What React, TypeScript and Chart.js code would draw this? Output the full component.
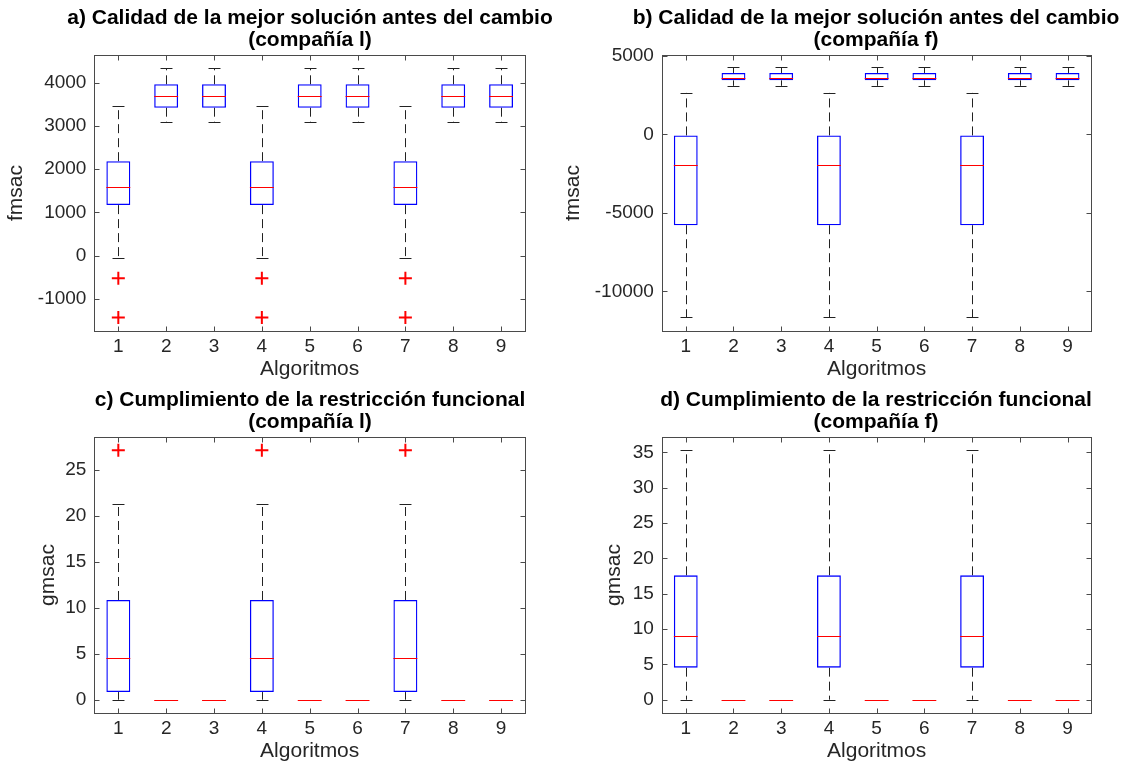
import React, { useEffect, useRef } from 'react';
import { Chart, registerables } from 'chart.js';

Chart.register(...registerables);

// ---------- data ----------
const categories = ['1', '2', '3', '4', '5', '6', '7', '8', '9'];

// a) fmsac, compañía l
const aLow = [-60, 3090, 3090, -60, 3090, 3090, -60, 3090, 3090];
const aQ1 = [1170, 3420, 3420, 1170, 3420, 3420, 1170, 3420, 3420];
const aMedian = [1595, 3700, 3700, 1595, 3700, 3700, 1595, 3700, 3700];
const aQ3 = [2185, 3960, 3960, 2185, 3960, 3960, 2185, 3960, 3960];
const aHigh = [3450, 4330, 4330, 3450, 4330, 4330, 3450, 4330, 4330];
const aOutliers = [[-520, -1425], [], [], [-520, -1425], [], [], [-520, -1425], [], []];
const aYTicks = [-1000, 0, 1000, 2000, 3000, 4000];

// b) fmsac, compañía f
const bLow = [-11650, 3100, 3100, -11650, 3100, 3100, -11650, 3100, 3100];
const bQ1 = [-5780, 3450, 3450, -5780, 3450, 3450, -5780, 3450, 3450];
const bMedian = [-1970, 3620, 3620, -1970, 3620, 3620, -1970, 3620, 3620];
const bQ3 = [-60, 3920, 3920, -60, 3920, 3920, -60, 3920, 3920];
const bHigh = [2650, 4290, 4290, 2650, 4290, 4290, 2650, 4290, 4290];
const bOutliers = [[], [], [], [], [], [], [], [], []];
const bYTicks = [-10000, -5000, 0, 5000];

// c) gmsac, compañía l
const cLow = [0, 0, 0, 0, 0, 0, 0, 0, 0];
const cQ1 = [0.83, 0, 0, 0.83, 0, 0, 0.83, 0, 0];
const cMedian = [4.53, 0, 0, 4.53, 0, 0, 4.53, 0, 0];
const cQ3 = [10.83, 0, 0, 10.83, 0, 0, 10.83, 0, 0];
const cHigh = [21.23, 0, 0, 21.23, 0, 0, 21.23, 0, 0];
const cOutliers = [[27.1], [], [], [27.1], [], [], [27.1], [], []];
const cYTicks = [0, 5, 10, 15, 20, 25];

// d) gmsac, compañía f
const dLow = [0, 0, 0, 0, 0, 0, 0, 0, 0];
const dQ1 = [4.53, 0, 0, 4.53, 0, 0, 4.53, 0, 0];
const dMedian = [8.96, 0, 0, 8.96, 0, 0, 8.96, 0, 0];
const dQ3 = [17.59, 0, 0, 17.59, 0, 0, 17.59, 0, 0];
const dHigh = [35.38, 0, 0, 35.38, 0, 0, 35.38, 0, 0];
const dOutliers = [[], [], [], [], [], [], [], [], []];
const dYTicks = [0, 5, 10, 15, 20, 25, 30, 35];

const FONT = '"Liberation Sans", Arial, Helvetica, sans-serif';
const XLABEL = 'Algoritmos';
const CANVAS_W = 620;
const CANVAS_H = 382;

const panels = [
  {
    key: 'a', left: 0, top: 0,
    title: ['a) Calidad de la mejor solución antes del cambio', '(compañía l)'],
    yLabel: 'fmsac', yMin: -1730, yMax: 4630, yTicks: aYTicks,
    low: aLow, q1: aQ1, med: aMedian, q3: aQ3, high: aHigh, out: aOutliers,
    axisW: 94.4, rightW: 95, yTitlePad: 6,
  },
  {
    key: 'b', left: 566, top: 0,
    title: ['b) Calidad de la mejor solución antes del cambio', '(compañía f)'],
    yLabel: 'fmsac', yMin: -12500, yMax: 5045, yTicks: bYTicks,
    low: bLow, q1: bQ1, med: bMedian, q3: bQ3, high: bHigh, out: bOutliers,
    axisW: 95.9, rightW: 94.6, yTitlePad: -3,
  },
  {
    key: 'c', left: 0, top: 382,
    title: ['c) Cumplimiento de la restricción funcional', '(compañía l)'],
    yLabel: 'gmsac', yMin: -1.41, yMax: 28.5, yTicks: cYTicks,
    low: cLow, q1: cQ1, med: cMedian, q3: cQ3, high: cHigh, out: cOutliers,
    axisW: 94.4, rightW: 95, yTitlePad: 38,
  },
  {
    key: 'd', left: 566, top: 382,
    title: ['d) Cumplimiento de la restricción funcional', '(compañía f)'],
    yLabel: 'gmsac', yMin: -1.84, yMax: 37.12, yTicks: dYTicks,
    low: dLow, q1: dQ1, med: dMedian, q3: dQ3, high: dHigh, out: dOutliers,
    axisW: 95.9, rightW: 94.6, yTitlePad: 38,
  },
];

const boxPlugin = {
  id: 'boxplot',
  beforeDatasetsDraw(chart: any, _args: any, opts: any) {
    const meta = chart.getDatasetMeta(1);
    const y = chart.scales.y;
    const ctx = chart.ctx;
    const area = chart.chartArea;
    ctx.save();
    ctx.beginPath();
    ctx.rect(area.left, area.top, area.right - area.left, area.bottom - area.top);
    ctx.clip();
    meta.data.forEach((bar: any, i: number) => {
      const x = Math.round(bar.x) + 0.5;
      const w = bar.width;
      const pLow = y.getPixelForValue(opts.low[i]);
      const pQ1 = y.getPixelForValue(opts.q1[i]);
      const pQ3 = y.getPixelForValue(opts.q3[i]);
      const pHigh = y.getPixelForValue(opts.high[i]);
      ctx.strokeStyle = '#222222';
      ctx.lineWidth = 1;
      ctx.setLineDash([9, 5]);
      if (opts.high[i] !== opts.q3[i]) {
        ctx.beginPath();
        ctx.moveTo(x, pQ3);
        ctx.lineTo(x, pHigh);
        ctx.stroke();
      }
      if (opts.low[i] !== opts.q1[i]) {
        ctx.beginPath();
        ctx.moveTo(x, pQ1);
        ctx.lineTo(x, pLow);
        ctx.stroke();
      }
      ctx.setLineDash([]);
      const cw = w / 4;
      [pHigh, pLow].forEach((p) => {
        const py = Math.round(p) + 0.5;
        ctx.beginPath();
        ctx.moveTo(x - cw, py);
        ctx.lineTo(x + cw, py);
        ctx.stroke();
      });
    });
    ctx.restore();
  },
  afterDatasetsDraw(chart: any, _args: any, opts: any) {
    const meta = chart.getDatasetMeta(1);
    const y = chart.scales.y;
    const ctx = chart.ctx;
    ctx.save();
    meta.data.forEach((bar: any, i: number) => {
      const w = bar.width;
      const py = Math.round(y.getPixelForValue(opts.med[i])) + 0.5;
      ctx.strokeStyle = '#ff0000';
      ctx.lineWidth = 1;
      ctx.beginPath();
      ctx.moveTo(bar.x - w / 2, py);
      ctx.lineTo(bar.x + w / 2, py);
      ctx.stroke();
    });
    ctx.restore();
  },
  afterDraw(chart: any) {
    const ctx = chart.ctx;
    const { left, right, top, bottom } = chart.chartArea;
    const L = Math.round(left) + 0.5;
    const R = Math.round(right) + 0.5;
    const T = Math.round(top) + 0.5;
    const B = Math.round(bottom) + 0.5;
    const tl = 5;
    ctx.save();
    ctx.strokeStyle = '#4a4a4a';
    ctx.lineWidth = 1;
    ctx.strokeRect(L, T, R - L, B - T);
    ctx.beginPath();
    chart.scales.y.ticks.forEach((t: any) => {
      const py = Math.round(chart.scales.y.getPixelForValue(t.value)) + 0.5;
      ctx.moveTo(L, py); ctx.lineTo(L + tl, py);
      ctx.moveTo(R, py); ctx.lineTo(R - tl, py);
    });
    chart.scales.x.ticks.forEach((_t: any, i: number) => {
      const px = Math.round(chart.scales.x.getPixelForTick(i)) + 0.5;
      ctx.moveTo(px, B); ctx.lineTo(px, B - tl);
      ctx.moveTo(px, T); ctx.lineTo(px, T + tl);
    });
    ctx.stroke();
    ctx.restore();
  },
};

function Panel({ p }: { p: any }) {
  const ref = useRef<HTMLCanvasElement>(null);
  useEffect(() => {
    const outlierPoints: any[] = [];
    p.out.forEach((vals: number[], i: number) => {
      vals.forEach((v) => outlierPoints.push({ x: categories[i], y: v }));
    });
    const chart = new Chart(ref.current as HTMLCanvasElement, {
      type: 'bar',
      data: {
        labels: categories,
        datasets: [
          {
            type: 'line',
            data: outlierPoints,
            showLine: false,
            pointStyle: 'cross',
            pointRadius: 6.5,
            pointBorderWidth: 2,
            pointBorderColor: '#ff0000',
            pointBackgroundColor: '#ff0000',
            order: -1,
          } as any,
          {
            type: 'bar',
            data: p.q1.map((v: number, i: number) => [v, p.q3[i]]),
            backgroundColor: 'rgba(255,255,255,0)',
            borderColor: '#0000ff',
            borderWidth: 1.3,
            borderSkipped: false,
            barPercentage: 0.5,
            categoryPercentage: 1,
            order: 0,
          } as any,
        ],
      },
      options: {
        responsive: false,
        animation: false,
        devicePixelRatio: 1,
        layout: { padding: { left: 0, right: 0, top: 0, bottom: 0 } },
        plugins: {
          legend: { display: false },
          tooltip: { enabled: false },
          title: {
            display: true,
            text: p.title,
            fullSize: true,
            color: '#000000',
            font: { family: FONT, size: 21, weight: 'bold', lineHeight: '21.7px' } as any,
            padding: { top: 7.45, bottom: 4.45 },
          },
          boxplot: { low: p.low, q1: p.q1, med: p.med, q3: p.q3, high: p.high },
        } as any,
        scales: {
          x: {
            type: 'category',
            offset: true,
            grid: { display: false, drawTicks: false },
            border: { display: false },
            ticks: { color: '#262626', font: { family: FONT, size: 19 }, padding: 5, maxRotation: 0 },
            title: {
              display: true, text: XLABEL, color: '#262626',
              font: { family: FONT, size: 21, lineHeight: 1.2 }, padding: { top: 0, bottom: 0 },
            },
            afterFit: (s: any) => { s.height = 51.3; },
          },
          y: {
            type: 'linear',
            min: p.yMin,
            max: p.yMax,
            grid: { display: false, drawTicks: false },
            border: { display: false },
            ticks: {
              color: '#262626',
              font: { family: FONT, size: 19 },
              padding: 8,
              callback: (v: any) => String(v),
            },
            afterBuildTicks: (s: any) => { s.ticks = p.yTicks.map((v: number) => ({ value: v })); },
            title: {
              display: true, text: p.yLabel, color: '#262626',
              font: { family: FONT, size: 21, lineHeight: 1 }, padding: { top: p.yTitlePad, bottom: 0 },
            },
            afterFit: (s: any) => { s.width = p.axisW; },
          },
          yRight: {
            type: 'linear',
            position: 'right',
            display: true,
            grid: { display: false, drawTicks: false },
            border: { display: false },
            ticks: { display: false },
            afterFit: (s: any) => { s.width = p.rightW; },
          },
        },
      } as any,
      plugins: [boxPlugin as any],
    });
    return () => chart.destroy();
  }, []);
  return (
    <div style={{ position: 'absolute', left: p.left, top: p.top, width: CANVAS_W, height: CANVAS_H }}>
      <canvas ref={ref} width={CANVAS_W} height={CANVAS_H} style={{ width: CANVAS_W, height: CANVAS_H, display: 'block' }} />
    </div>
  );
}

export default function App() {
  return (
    <div style={{ position: 'fixed', left: 0, top: 0, width: 1132, height: 764, background: '#ffffff', overflow: 'hidden' }}>
      {panels.map((p) => <Panel key={p.key} p={p} />)}
    </div>
  );
}
